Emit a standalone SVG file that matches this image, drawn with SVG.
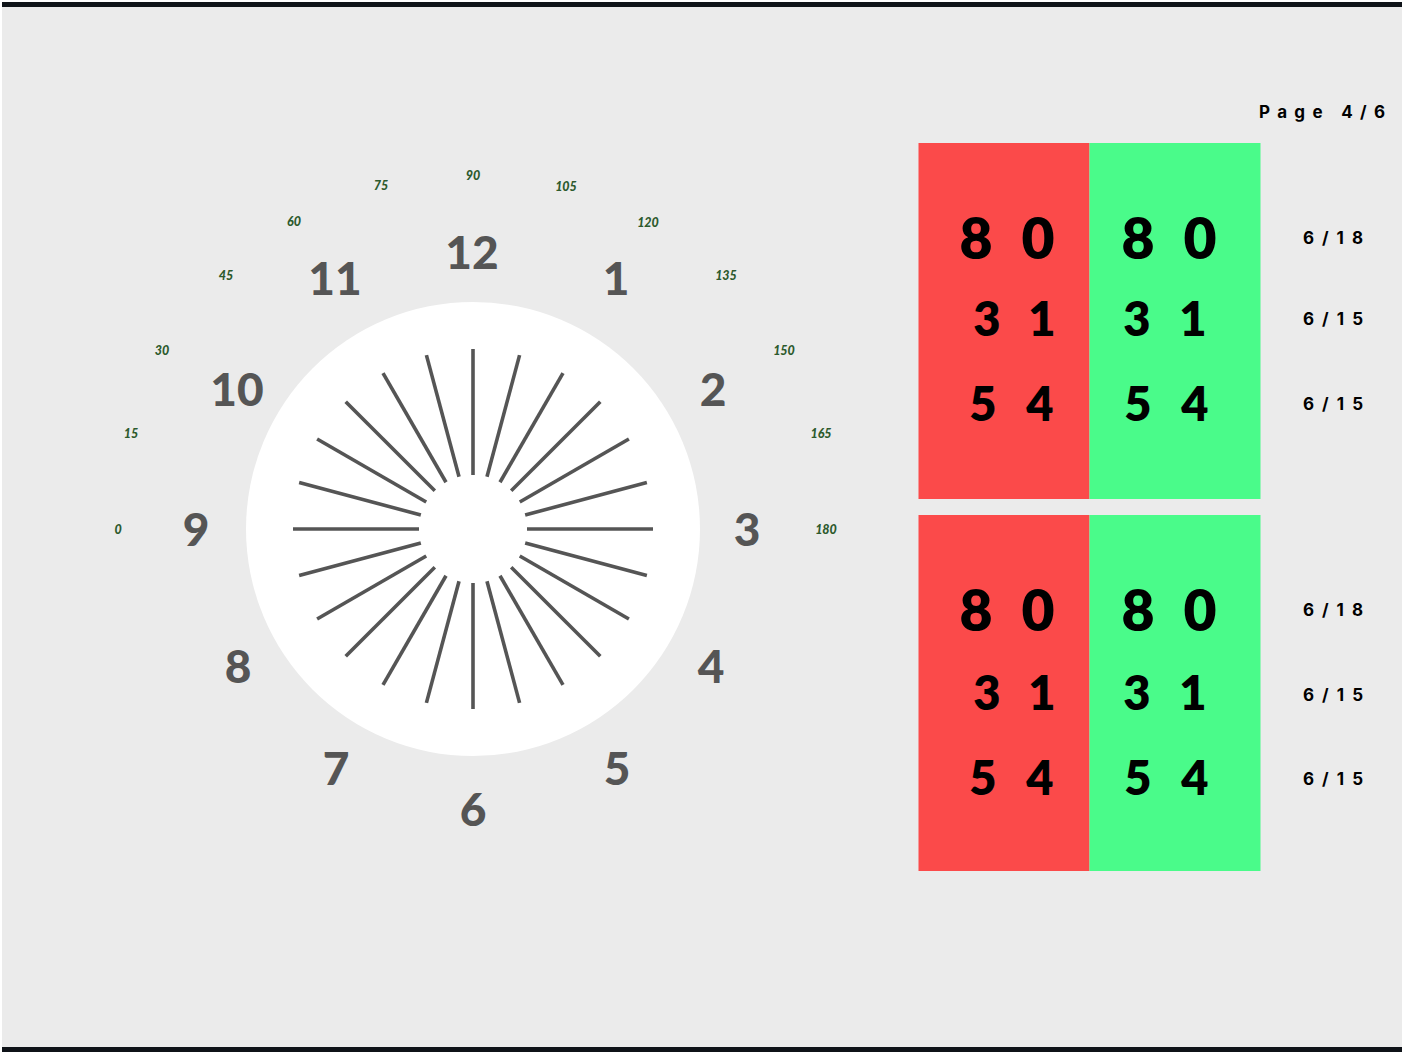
<svg xmlns="http://www.w3.org/2000/svg" width="1404" height="1054" viewBox="0 0 1404 1054">
<defs>
<style>
.num{font-family:Lato,"Open Sans","Liberation Sans",sans-serif;font-weight:900;font-size:46px;fill:#555555;text-anchor:middle}
.deg{font-family:Lato,"Open Sans","Liberation Sans",sans-serif;font-weight:900;font-style:italic;font-size:12.5px;fill:#2d5a2d;text-anchor:middle}
.spoke{stroke:#555555;stroke-width:3.6;stroke-linecap:butt}
.big{font-family:Lato,"Liberation Sans",sans-serif;font-weight:800;font-size:57px;fill:#000;text-anchor:middle}
.mid{font-family:Lato,"Liberation Sans",sans-serif;font-weight:800;font-size:47px;fill:#000;text-anchor:middle}
.acu{font-family:Inter,"Liberation Sans",sans-serif;font-weight:700;font-size:17px;fill:#000}
</style>
<line id="sp" class="spoke" x1="527" y1="529" x2="653" y2="529"/>
</defs>
<rect x="0" y="0" width="1404" height="1054" fill="#ffffff"/>
<rect x="2" y="2" width="1400" height="1050" fill="#ebebeb"/>
<rect x="2" y="2" width="1400" height="5" fill="#0f1318"/>
<rect x="2" y="1047" width="1400" height="5" fill="#0f1318"/>

<g id="dial">
<circle cx="473" cy="529" r="227" fill="#ffffff"/>
<g id="spokes">
<use href="#sp"/>
<use href="#sp" transform="rotate(15 473 529)"/>
<use href="#sp" transform="rotate(30 473 529)"/>
<use href="#sp" transform="rotate(45 473 529)"/>
<use href="#sp" transform="rotate(60 473 529)"/>
<use href="#sp" transform="rotate(75 473 529)"/>
<use href="#sp" transform="rotate(90 473 529)"/>
<use href="#sp" transform="rotate(105 473 529)"/>
<use href="#sp" transform="rotate(120 473 529)"/>
<use href="#sp" transform="rotate(135 473 529)"/>
<use href="#sp" transform="rotate(150 473 529)"/>
<use href="#sp" transform="rotate(165 473 529)"/>
<use href="#sp" transform="rotate(180 473 529)"/>
<use href="#sp" transform="rotate(195 473 529)"/>
<use href="#sp" transform="rotate(210 473 529)"/>
<use href="#sp" transform="rotate(225 473 529)"/>
<use href="#sp" transform="rotate(240 473 529)"/>
<use href="#sp" transform="rotate(255 473 529)"/>
<use href="#sp" transform="rotate(270 473 529)"/>
<use href="#sp" transform="rotate(285 473 529)"/>
<use href="#sp" transform="rotate(300 473 529)"/>
<use href="#sp" transform="rotate(315 473 529)"/>
<use href="#sp" transform="rotate(330 473 529)"/>
<use href="#sp" transform="rotate(345 473 529)"/>
</g>
</g>

<g id="clock-numbers">
<text class="num" x="472" y="269">12</text>
<text class="num" x="616" y="295">1</text>
<text class="num" x="713" y="406">2</text>
<text class="num" x="747" y="546">3</text>
<text class="num" x="711" y="683">4</text>
<text class="num" x="617" y="785">5</text>
<text class="num" x="473" y="826">6</text>
<text class="num" x="336" y="785">7</text>
<text class="num" x="238" y="683">8</text>
<text class="num" x="196" y="546">9</text>
<text class="num" x="237" y="406">10</text>
<text class="num" x="335" y="295">11</text>
</g>

<g id="degree-labels">
<text class="deg" x="118" y="534">0</text>
<text class="deg" x="131" y="438">15</text>
<text class="deg" x="162" y="355">30</text>
<text class="deg" x="226" y="280">45</text>
<text class="deg" x="294" y="226">60</text>
<text class="deg" x="381" y="190">75</text>
<text class="deg" x="473" y="180">90</text>
<text class="deg" x="566" y="191">105</text>
<text class="deg" x="648" y="227">120</text>
<text class="deg" x="726" y="280">135</text>
<text class="deg" x="784" y="355">150</text>
<text class="deg" x="821" y="438">165</text>
<text class="deg" x="826" y="534">180</text>
</g>

<text id="page" class="acu" x="1259" y="118" font-size="18" textLength="126" lengthAdjust="spacing">Page 4/6</text>

<g id="chart-top">
<rect x="918.5" y="143" width="171" height="356" fill="#fb4a4a"/>
<rect x="1089.5" y="143" width="171" height="356" fill="#4afb8a"/>
<text class="big" x="976" y="259">8</text><text class="big" x="1038" y="259">0</text>
<text class="big" x="1138" y="259">8</text><text class="big" x="1200" y="259">0</text>
<text class="mid" x="987" y="336">3</text><text class="mid" x="1042" y="336">1</text>
<text class="mid" x="1137" y="336">3</text><text class="mid" x="1193" y="336">1</text>
<text class="mid" x="983" y="421">5</text><text class="mid" x="1040" y="421">4</text>
<text class="mid" x="1138" y="421">5</text><text class="mid" x="1195" y="421">4</text>
</g>

<g id="chart-bottom">
<rect x="918.5" y="515" width="171" height="356" fill="#fb4a4a"/>
<rect x="1089.5" y="515" width="171" height="356" fill="#4afb8a"/>
<text class="big" x="976" y="631">8</text><text class="big" x="1038" y="631">0</text>
<text class="big" x="1138" y="631">8</text><text class="big" x="1200" y="631">0</text>
<text class="mid" x="987" y="710">3</text><text class="mid" x="1042" y="710">1</text>
<text class="mid" x="1137" y="710">3</text><text class="mid" x="1193" y="710">1</text>
<text class="mid" x="983" y="795">5</text><text class="mid" x="1040" y="795">4</text>
<text class="mid" x="1138" y="795">5</text><text class="mid" x="1195" y="795">4</text>
</g>

<g id="acuity-labels">
<text class="acu" x="1303" y="244" textLength="60" lengthAdjust="spacing">6/18</text>
<text class="acu" x="1303" y="325" textLength="60" lengthAdjust="spacing">6/15</text>
<text class="acu" x="1303" y="410" textLength="60" lengthAdjust="spacing">6/15</text>
<text class="acu" x="1303" y="616" textLength="60" lengthAdjust="spacing">6/18</text>
<text class="acu" x="1303" y="701" textLength="60" lengthAdjust="spacing">6/15</text>
<text class="acu" x="1303" y="785" textLength="60" lengthAdjust="spacing">6/15</text>
</g>
</svg>
